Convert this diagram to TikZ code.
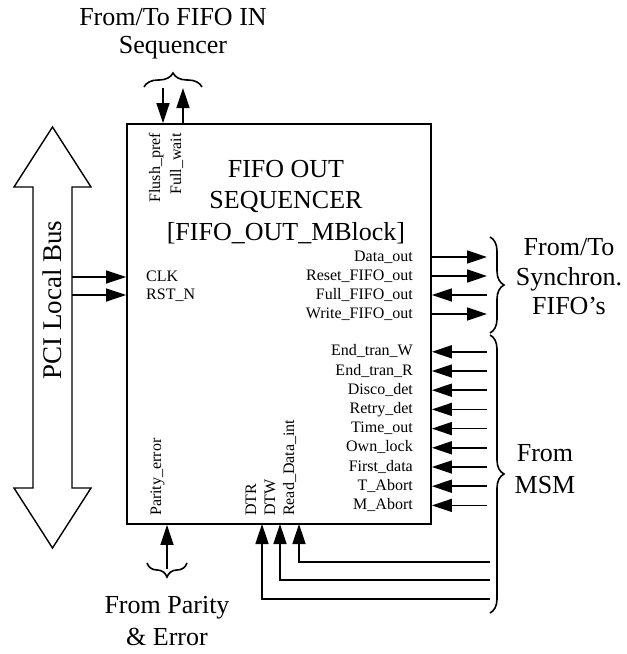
\documentclass[tikz,border=0pt]{standalone}
\usepackage{fontspec}
\setmainfont{Liberation Serif}
\usetikzlibrary{arrows.meta, positioning, calc, decorations.pathreplacing}

\tikzset{
  wire/.style={line width=1.6pt, -{Triangle[length=20pt,width=13pt]}},
  sigtxt/.style={font=\fontsize{16}{16}\selectfont, inner sep=0pt, text height=11pt, text depth=3pt},
  lbl/.style={font=\fontsize{26}{30}\selectfont, align=center, inner sep=0pt},
  grp/.style={decorate, decoration={brace, amplitude=14pt}, line width=1.6pt},
}

\begin{document}
\begin{tikzpicture}[x=1pt, y=-1pt]
  \useasboundingbox (0,0) rectangle (627,654);

  % sequencer block
  \node[draw, line width=1.8pt, minimum width=304pt, minimum height=400pt, inner sep=0pt] (seq) at (279,324) {};
  \node[lbl, font=\fontsize{26}{31.5}\selectfont] (title) at (286,202) {FIFO OUT\\SEQUENCER\\{[FIFO\_OUT\_MBlock]}};

  % PCI bus
  \draw[line width=1.4pt] (33,187) -- (33,488) -- (14,488) -- (52.5,548) -- (91,488) -- (72,488)
    -- (72,187) -- (91,187) -- (52.5,127) -- (14,187) -- cycle;
  \node[lbl, rotate=90, font=\fontsize{27}{30}\selectfont] (pci) at (52.5,300) {PCI Local Bus};
  \coordinate (clkin) at (72,277);
  \coordinate (rstin) at (72,295);
  \draw[wire] (clkin) -- (clkin -| seq.west);
  \draw[wire] (rstin) -- (rstin -| seq.west);
  \node[sigtxt, anchor=west] (clk) at (146,277) {CLK};
  \node[sigtxt, anchor=west] (rst) at (146,295) {RST\_N};

  % FIFO IN sequencer
  \node[sigtxt, rotate=90, anchor=east] (flush) at (156,133) {Flush\_pref};
  \node[sigtxt, rotate=90, anchor=east] (fullw) at (177,133) {Full\_wait};
  \coordinate (flushin) at (163,88);
  \coordinate (fullout) at (183,88);
  \draw[wire] (flushin) -- (flushin |- seq.north);
  \draw[wire] (fullout |- seq.north) -- (fullout);
  \draw[grp] (144,87) -- (202,87);
  \node[lbl, font=\fontsize{26}{28}\selectfont] (fifoin) at (173,34) {From/To FIFO IN\\Sequencer};

  % synchronous FIFOs
  \foreach \nm/\y [count=\i] in {Data\_out/257, Reset\_FIFO\_out/276, Full\_FIFO\_out/295, Write\_FIFO\_out/314} {
    \node[sigtxt, anchor=east] (fo\i) at (413,\y) {\nm};
    \coordinate (fe\i) at (487,\y);
  }
  \foreach \i in {1,2,4}
    \draw[wire] (fe\i -| seq.east) -- (fe\i);
  \draw[wire] (fe3) -- (fe3 -| seq.east);
  \draw[grp] (490,237) -- (490,333);
  \node[lbl, font=\fontsize{26}{29.5}\selectfont] (synch) at (569,277) {From/To\\Synchron.\\FIFO's};

  % MSM
  \foreach \nm [count=\i] in {End\_tran\_W, End\_tran\_R, Disco\_det, Retry\_det, Time\_out, Own\_lock, First\_data, T\_Abort, M\_Abort} {
    \node[sigtxt, anchor=east] (ms\i) at (413,{332.6+19.2*\i}) {\nm};
    \coordinate (me\i) at (487,{332.6+19.2*\i});
    \draw[wire] (me\i) -- (me\i -| seq.east);
  }
  \draw[grp] (490,335) -- (490,613);
  \node[lbl, font=\fontsize{26}{32}\selectfont] (msm) at (545,469) {From\\MSM};

  % parity and data transfer
  \node[sigtxt, rotate=90, anchor=west] (parity) at (157,516) {Parity\_error};
  \node[sigtxt, rotate=90, anchor=west] (dtr) at (252,516) {DTR};
  \node[sigtxt, rotate=90, anchor=west] (dtw) at (271,516) {DTW};
  \node[sigtxt, rotate=90, anchor=west] (rdi) at (290,516) {Read\_Data\_int};
  \coordinate (pein) at (167,569);
  \draw[wire] (pein) -- (pein |- seq.south);
  \draw[grp] (187,563) -- (147,563);
  \node[lbl, font=\fontsize{26}{32}\selectfont] (perr) at (167,621) {From Parity\\\& Error};

  \coordinate (rdiin) at (490,562);
  \coordinate (dtwin) at (490,580);
  \coordinate (dtrin) at (490,599);
  \coordinate (rditip) at (299,524);
  \coordinate (dtwtip) at (280,524);
  \coordinate (dtrtip) at (262,524);
  \draw[wire] (rdiin) -| (rditip);
  \draw[wire] (dtwin) -| (dtwtip);
  \draw[wire] (dtrin) -| (dtrtip);
\end{tikzpicture}
\end{document}
